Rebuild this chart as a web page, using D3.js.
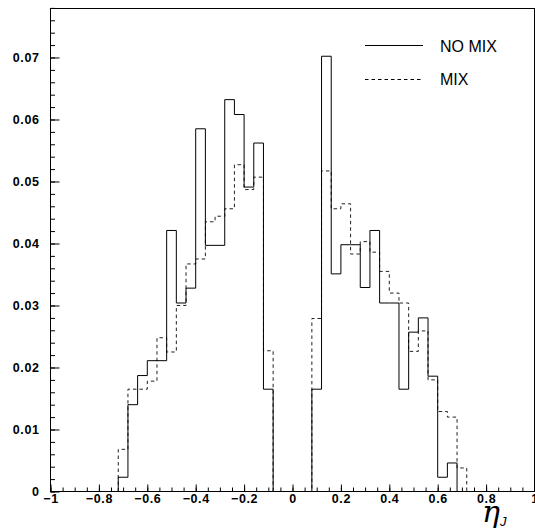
<!DOCTYPE html>
<html>
<head>
<meta charset="utf-8">
<script src="https://cdn.jsdelivr.net/npm/d3@7"></script>
<style>
  body { margin: 0; background: #fff; }
  svg { display: block; }
</style>
</head>
<body>
<svg id="chart" width="535" height="529"></svg>
<script>
// Lower edge of each eta_J bin (bin width 0.04)
const binLow = [
  -0.72, -0.68, -0.64, -0.60, -0.56, -0.52, -0.48, -0.44, -0.40, -0.36, -0.32, -0.28,
  -0.24, -0.20, -0.16, -0.12, -0.08, -0.04, 0.00, 0.04, 0.08, 0.12, 0.16, 0.20,
  0.24, 0.28, 0.32, 0.36, 0.40, 0.44, 0.48, 0.52, 0.56, 0.60, 0.64, 0.68
];
const binWidth = 0.04;

// Normalised contents, no mixing
const noMix = [
  0.0023, 0.0140, 0.0187, 0.0211, 0.0211, 0.0421, 0.0304, 0.0328, 0.0585, 0.0397, 0.0397, 0.0632,
  0.0608, 0.0491, 0.0562, 0.0165, 0, 0, 0, 0, 0.0165, 0.0702, 0.0351, 0.0398,
  0.0398, 0.0329, 0.0421, 0.0304, 0.0304, 0.0165, 0.0257, 0.0280, 0.0186, 0.0023, 0.0046, 0
];

// Normalised contents, with mixing
const mix = [
  0.0068, 0.0165, 0.0165, 0.0178, 0.0248, 0.0225, 0.0300, 0.0367, 0.0375, 0.0435, 0.0444, 0.0456,
  0.0527, 0.0487, 0.0507, 0.0227, 0, 0, 0, 0, 0.0279, 0.0517, 0.0456, 0.0464,
  0.0383, 0.0403, 0.0386, 0.0355, 0.0320, 0.0304, 0.0226, 0.0259, 0.0180, 0.0129, 0.0120, 0.0038
];

const seriesNames = ["NO MIX", "MIX"];

const yTicks = [0, 0.01, 0.02, 0.03, 0.04, 0.05, 0.06, 0.07];
const yTickLabels = ["0", "0.01", "0.02", "0.03", "0.04", "0.05", "0.06", "0.07"];
const xTicks = [-1, -0.8, -0.6, -0.4, -0.2, 0, 0.2, 0.4, 0.6, 0.8, 1];
const xTickLabels = ["\u22121", "\u22120.8", "\u22120.6", "\u22120.4", "\u22120.2", "0", "0.2", "0.4", "0.6", "0.8", "1"];

const svg = d3.select("#chart");

const x = d3.scaleLinear().domain([-1, 1]).range([50.5, 534.5]);
const y = d3.scaleLinear().domain([0, 0.0779]).range([491.5, 8.5]);

const labelFont = "Liberation Sans, Arial, sans-serif";

function styleLabels(g) {
  g.selectAll("text")
    .attr("font-size", 12.5)
    .attr("font-family", labelFont)
    .attr("font-weight", "bold")
    .attr("letter-spacing", 0.6)
    .attr("fill", "#000");
}

// Y axis: major and minor ticks pointing into the frame
const yMinor = d3.range(0, 0.0781, 0.002);
svg.append("g")
  .attr("transform", `translate(${x(-1)},0)`)
  .call(d3.axisLeft(y).tickValues(yMinor).tickSize(-4.5).tickSizeOuter(0).tickFormat(""))
  .call(g => g.select(".domain").remove());
svg.append("g")
  .attr("transform", `translate(${x(-1)},0)`)
  .call(d3.axisLeft(y).tickValues(yTicks).tickSize(-9).tickSizeOuter(0).tickPadding(11)
    .tickFormat((d, i) => yTickLabels[i]))
  .call(g => g.select(".domain").remove())
  .call(styleLabels);

// X axis: ticks pointing up from the bottom edge
const xMinor = d3.range(-1, 1.001, 0.05);
svg.append("g")
  .attr("transform", `translate(0,${y(0)})`)
  .call(d3.axisBottom(x).tickValues(xMinor).tickSize(-4).tickSizeOuter(0).tickFormat(""))
  .call(g => g.select(".domain").remove());
svg.append("g")
  .attr("transform", `translate(0,${y(0)})`)
  .call(d3.axisBottom(x).tickValues(xTicks).tickSize(-7).tickSizeOuter(0).tickPadding(3)
    .tickFormat((d, i) => xTickLabels[i]))
  .call(g => g.select(".domain").remove())
  .call(styleLabels);

// Frame
svg.append("rect")
  .attr("x", x(-1)).attr("y", y.range()[1])
  .attr("width", x(1) - x(-1)).attr("height", y(0) - y.range()[1])
  .attr("fill", "none").attr("stroke", "#000").attr("stroke-width", 1);

// Step outline of a histogram
function stepPoints(values) {
  const pts = [[binLow[0], 0]];
  values.forEach((v, i) => pts.push([binLow[i], v]));
  const last = binLow.length - 1;
  pts.push([binLow[last] + binWidth, values[last]]);
  pts.push([binLow[last] + binWidth, 0]);
  return pts;
}
const line = d3.line()
  .x(d => x(d[0]))
  .y(d => y(d[1]))
  .curve(d3.curveStepAfter);

svg.append("path")
  .attr("d", line(stepPoints(mix)))
  .attr("fill", "none").attr("stroke", "#222").attr("stroke-width", 1)
  .attr("stroke-dasharray", "3.5,3");

svg.append("path")
  .attr("d", line(stepPoints(noMix)))
  .attr("fill", "none").attr("stroke", "#000").attr("stroke-width", 1);

// Legend
const legend = svg.append("g");
const legendRows = [
  { name: seriesNames[0], dash: null, ly: 45.5, ty: 52 },
  { name: seriesNames[1], dash: "3.5,3", ly: 79.5, ty: 85 }
];
legendRows.forEach(r => {
  legend.append("line")
    .attr("x1", 365).attr("x2", 423).attr("y1", r.ly).attr("y2", r.ly)
    .attr("stroke", "#000").attr("stroke-width", 1)
    .attr("stroke-dasharray", r.dash);
  legend.append("text")
    .attr("x", 440).attr("y", r.ty)
    .attr("font-family", labelFont).attr("font-size", 16)
    .text(r.name);
});

// Axis title: eta with subscript J
const title = svg.append("text")
  .attr("x", 482).attr("y", 522)
  .attr("font-family", "DejaVu Serif, serif")
  .attr("font-style", "italic")
  .attr("font-size", 30)
  .text("\u03b7");
title.append("tspan")
  .attr("dy", 4)
  .attr("font-family", labelFont)
  .attr("font-style", "italic")
  .attr("font-size", 13)
  .text("J");
</script>
</body>
</html>
